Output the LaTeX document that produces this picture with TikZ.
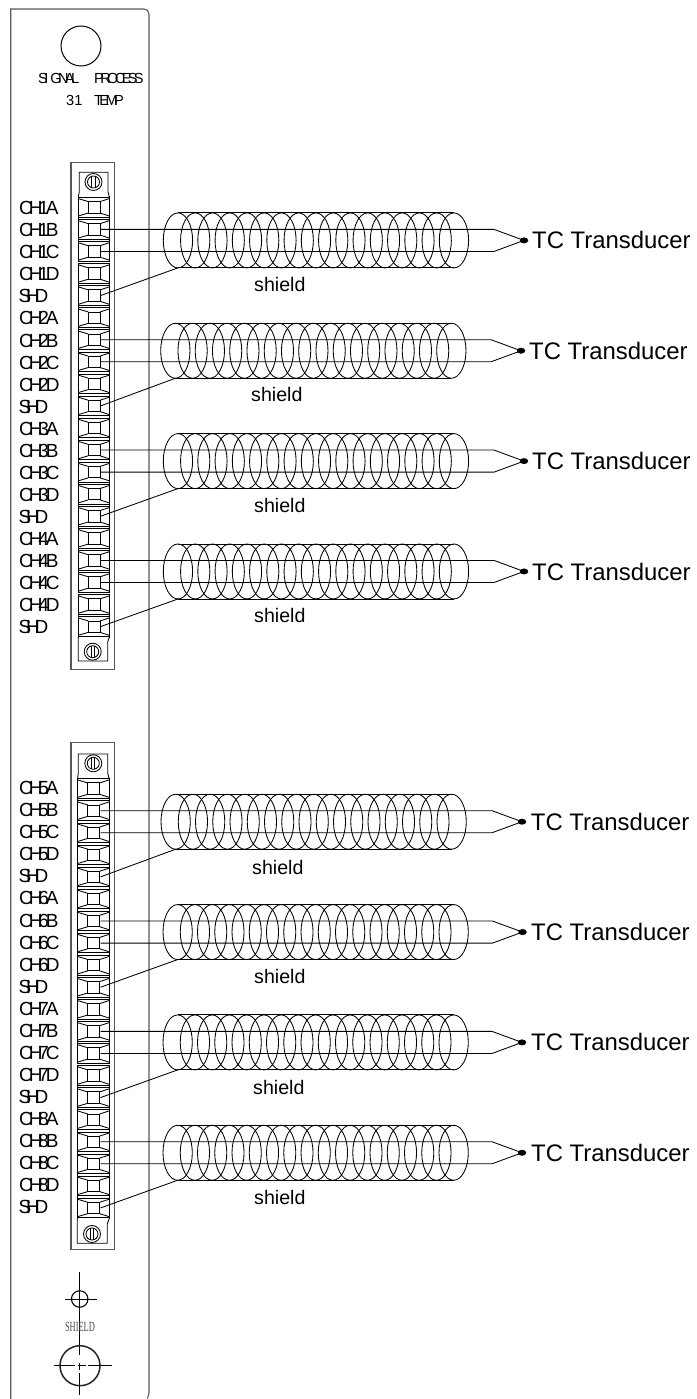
\documentclass[tikz,border=0pt]{standalone}
\usepackage{fontspec}
\usepackage{graphicx}
\setmainfont{Liberation Sans}
\newfontfamily\tighta[LetterSpace=-22]{Liberation Sans}
\newfontfamily\tightb[LetterSpace=-25]{Liberation Sans}
\newfontfamily\serifsh{Liberation Serif}
\usetikzlibrary{calc,shapes.geometric}
\definecolor{panelgray}{gray}{0.35}
\tikzset{
  thinline/.style={draw=black,line width=0.85pt},
  panelline/.style={draw=panelgray,line width=1.1pt},
  chlabel/.style={anchor=west,inner sep=0pt,font=\fontsize{19}{20}\tighta},
  toplabel/.style={anchor=west,inner sep=0pt,font=\fontsize{14.6}{15}\tightb},
  tclabel/.style={anchor=west,inner sep=0pt,font=\fontsize{23.9}{25}\selectfont},
  shlabel/.style={anchor=west,inner sep=0pt,font=\fontsize{19.6}{21}\selectfont},
}
% strip: #1 prefix, #2 first cell centre, #3 left x, #4 right x
\newcommand{\cells}[4]{%
  \foreach \kk in {0,...,19}{%
    \pgfmathsetmacro{\cc}{#2+22.07*\kk}
    \coordinate (#1\kk) at (100.5,\cc);
    \pgfmathsetmacro{\xa}{#3+10}\pgfmathsetmacro{\xb}{#4-9.3}
    \draw[thinline] (\xa,\cc-5.7) rectangle (\xb,\cc+5.7);
    \draw[thinline] (\xa,\cc-5.7) -- (#3,\cc-8.7) (\xb,\cc-5.7) -- (#4,\cc-8.7)
                    (\xa,\cc+5.7) -- (#3,\cc+8.7) (\xb,\cc+5.7) -- (#4,\cc+8.7);
    \draw[thinline] (#3,\cc-11) -- (#3,\cc+11) (#4,\cc-11) -- (#4,\cc+11);
    \draw[thinline] (#3,\cc-9.8) -- (#4,\cc-9.8) (#3,\cc+9.8) -- (#4,\cc+9.8);
  }%
}
\newcommand{\screw}[3]{%
  \node[circle,draw=black,line width=0.85pt,minimum size=17pt,inner sep=0pt] (#1) at (#2,#3) {};
  \draw[thinline] (#2,#3) circle[radius=6];
  \draw[thinline] (#2-1.6,#3-6) -- (#2-1.6,#3+6) (#2+1.6,#3-6) -- (#2+1.6,#3+6);
}
% row: #1 id, #2 upper term, #3 lower term, #4 shield term, #5 coil left, #6 dot x, #7 text x, #8 shield x, #9 shield y
\newcommand{\coilrow}[9]{%
  \path let \p1=(#2), \p2=(#3) in coordinate (cy#1) at (0,{0.5*(\y1+\y2)});
  \path let \p1=(cy#1) in coordinate (cen#1) at (#5pt,\y1);
  \foreach \ee in {0,...,16}{%
    \draw[thinline] ([xshift=14.65pt+17.25pt*\ee]cen#1) ellipse[x radius=14.65pt,y radius=27.5pt];
  }
  \draw[thinline] ([xshift=14.65pt,yshift=27.5pt]cen#1) -- ([xshift=290.65pt,yshift=27.5pt]cen#1);
  \draw[thinline] ([xshift=14.65pt,yshift=-27.5pt]cen#1) coordinate (sh#1) -- ([xshift=290.65pt,yshift=-27.5pt]cen#1);
  \node[ellipse,fill=black,inner sep=0pt,minimum width=8.5pt,minimum height=6pt] (tip#1) at ([xshift={#6pt-#5pt}]cen#1) {};
  \path let \p1=(#2), \p2=(tip#1) in coordinate (ka#1) at (\x2-30pt,\y1);
  \path let \p1=(#3), \p2=(tip#1) in coordinate (kb#1) at (\x2-30pt,\y1);
  \draw[thinline] (#2) -- (ka#1) -- (tip#1.center);
  \draw[thinline] (#3) -- (kb#1) -- (tip#1.center);
  \draw[thinline] (#4) -- (sh#1);
  \node[tclabel] (tc#1) at ([xshift={#7pt-#5pt}]cen#1) {TC Transducer};
  \node[shlabel] (sl#1) at (#8,#9) {shield};
}
\begin{document}
\begin{tikzpicture}[x=1pt,y=-1pt]
\useasboundingbox (0,0) rectangle (696,1399);
% panel
\draw[panelline] (10.7,1399) -- (10.7,9) -- (144,9) to[out=0,in=90] (149,14) -- (149,1393) -- (147.5,1398.5);
% top
\node[circle,draw=black,line width=1pt,minimum size=40pt,inner sep=0pt] (lamp) at (81,46) {};
\node[toplabel] (sig) at (38,78) {SI\kern2pt GNAL};
\node[toplabel] (proc) at (94,78) {PROCESS};
\node[anchor=west,inner sep=0pt,font=\fontsize{14.6}{15}\selectfont] (n31) at (66,100.5) {31};
\node[toplabel] (temp) at (94,100.5) {TEMP};
% block 1
\draw[panelline] (71,162.7) rectangle (114.3,669.3);
\draw[thinline] (78.3,197) -- (79.3,192) -- (79.3,172.3) -- (108,172.3) -- (108,192) -- (109.3,197);
\screw{s1}{93.5}{182}
\cells{a}{207.3}{78.3}{109.3}
\draw[thinline] (78.3,637) -- (78.3,661) -- (107.7,661) -- (107.7,642) -- (109.3,637);
\screw{s2}{92.7}{651.7}
% block 2
\draw[panelline] (71,742.7) rectangle (114.3,1249.3);
\draw[thinline] (77.7,778) -- (78.3,773) -- (78.3,754) -- (107.7,754) -- (107.7,773) -- (109,778);
\screw{s3}{93.3}{763.3}
\cells{b}{788.6}{77.7}{109}
\draw[thinline] (77.3,1219) -- (77.3,1243.3) -- (107.3,1243.3) -- (107.3,1224) -- (109,1219);
\screw{s4}{92}{1234}
% labels
\foreach \gg/\yy in {1/208,2/318.4,3/428.7,4/539,5/788,6/898.4,7/1008.7,8/1119}{
  \foreach \ll/\tt in {A/0,B/1,C/2,D/3}{
    \node[chlabel] (lab\gg\ll) at (19,{\yy+22.07*\tt}) {CH\gg\kern-3pt\ll};
  }
  \node[chlabel] (lab\gg S) at (18.5,{\yy+22.07*4}) {S\kern-5.2pt H\kern-5.2pt D};
}
% rows
\coilrow{1}{a1}{a2}{a4}{163.3}{524}{532}{254}{284}
\coilrow{2}{a6}{a7}{a9}{160.7}{521}{529}{251}{394}
\coilrow{3}{a11}{a12}{a14}{163.3}{524}{532}{254}{505}
\coilrow{4}{a16}{a17}{a19}{163.3}{524}{532}{254}{615}
\coilrow{5}{b1}{b2}{b4}{161}{522}{530.7}{252}{867}
\coilrow{6}{b6}{b7}{b9}{163}{522.5}{531}{254}{976}
\coilrow{7}{b11}{b12}{b14}{163}{522}{531}{253}{1087}
\coilrow{8}{b16}{b17}{b19}{163}{522}{531}{254}{1197}
% shield symbol
\node[circle,draw=black,line width=1.1pt,minimum size=16.5pt,inner sep=0pt] (small) at (79.7,1299) {};
\draw[thinline] (65,1299) -- (97,1299);
\draw[thinline] (79.7,1272) -- (79.7,1355) (79.7,1363) -- (79.7,1370) (79.7,1373) -- (79.7,1395);
\node[circle,draw=black!85,line width=1.5pt,minimum size=40pt,inner sep=0pt] (big) at (80,1365.7) {};
\draw[thinline] (54,1365.7) -- (75,1365.7) (77.5,1365.7) -- (85.7,1365.7) (88.3,1365.7) -- (111.7,1365.7);
\node[inner sep=0pt,text=black!70,font=\fontsize{14}{15}\serifsh] (shd) at (80,1327) {\scalebox{.6}[1]{SHIELD}};
\end{tikzpicture}
\end{document}
